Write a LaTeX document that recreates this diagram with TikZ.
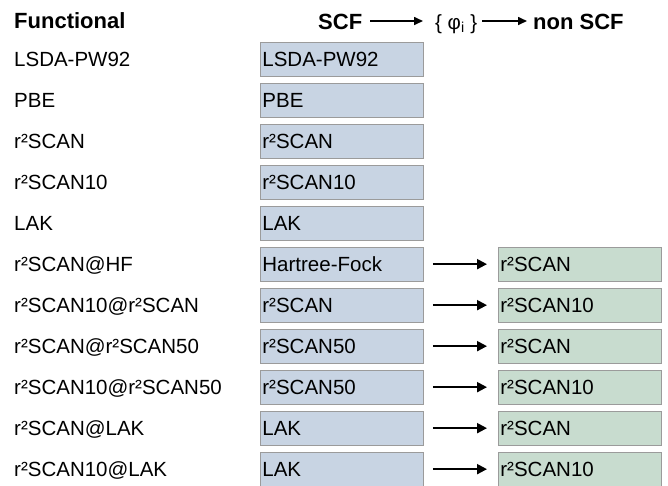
\documentclass[tikz,border=0pt]{standalone}
\usepackage{fontspec}
\setmainfont{Liberation Sans}
\usetikzlibrary{arrows.meta}

\definecolor{scfblue}{RGB}{200,212,227}
\definecolor{nscfgreen}{RGB}{200,220,207}
\definecolor{cellline}{RGB}{155,155,155}

\begin{document}
\begin{tikzpicture}[x=1pt, y=-1pt,
  font=\fontsize{20.5}{24}\selectfont,
  lab/.style={anchor=base west, inner sep=0pt},
  head/.style={lab, font=\fontsize{22}{26}\selectfont\bfseries},
  cell/.style={draw=cellline, line width=0.8pt, anchor=north west,
    minimum height=33.5pt, text width=159pt, inner xsep=2pt, inner ysep=0pt,
    align=left, text height=14pt, text depth=0pt},
  scfbox/.style={cell, fill=scfblue},
  nscfbox/.style={cell, fill=nscfgreen},
  flow/.style={line width=2pt, -{Triangle[length=10pt,width=10pt]},
    shorten <=9pt, shorten >=11pt},
  hflow/.style={line width=1.6pt, -{Triangle[length=9pt,width=8pt]}},
]
\useasboundingbox (0,0) rectangle (668,485);

% header line
\node[head] (hfun) at (14,28) {Functional};
\node[head] (hscf) at (318,29) {SCF};
\node[lab]  (hphi) at (435,29) {\{ φ\textsubscript{i} \}};
\node[head] (hnon) at (533,29) {non SCF};
\draw[hflow, shorten <=8pt, shorten >=12pt]
  ([yshift=8pt]hscf.base east) -- ([yshift=8pt]hphi.base west);
\draw[hflow, shorten <=5pt, shorten >=6pt]
  ([yshift=8pt]hphi.base east) -- ([yshift=8pt]hnon.base west);

% functional names, one row every 41pt
\node[lab] (l0)  at (14,66)  {LSDA-PW92};
\node[lab] (l1)  at (14,107) {PBE};
\node[lab] (l2)  at (14,148) {r²SCAN};
\node[lab] (l3)  at (14,189) {r²SCAN10};
\node[lab] (l4)  at (14,230) {LAK};
\node[lab] (l5)  at (14,271) {r²SCAN@HF};
\node[lab] (l6)  at (14,312) {r²SCAN10@r²SCAN};
\node[lab] (l7)  at (14,353) {r²SCAN@r²SCAN50};
\node[lab] (l8)  at (14,394) {r²SCAN10@r²SCAN50};
\node[lab] (l9)  at (14,435) {r²SCAN@LAK};
\node[lab] (l10) at (14,476) {r²SCAN10@LAK};

% self-consistent densities
\node[scfbox] (s0)  at (260,42)  {LSDA-PW92};
\node[scfbox] (s1)  at (260,83)  {PBE};
\node[scfbox] (s2)  at (260,124) {r²SCAN};
\node[scfbox] (s3)  at (260,165) {r²SCAN10};
\node[scfbox] (s4)  at (260,206) {LAK};
\node[scfbox] (s5)  at (260,247) {Hartree-Fock};
\node[scfbox] (s6)  at (260,288) {r²SCAN};
\node[scfbox] (s7)  at (260,329) {r²SCAN50};
\node[scfbox] (s8)  at (260,370) {r²SCAN50};
\node[scfbox] (s9)  at (260,411) {LAK};
\node[scfbox] (s10) at (260,452) {LAK};

% non-self-consistent evaluations
\node[nscfbox] (n5)  at (498,247) {r²SCAN};
\node[nscfbox] (n6)  at (498,288) {r²SCAN10};
\node[nscfbox] (n7)  at (498,329) {r²SCAN};
\node[nscfbox] (n8)  at (498,370) {r²SCAN10};
\node[nscfbox] (n9)  at (498,411) {r²SCAN};
\node[nscfbox] (n10) at (498,452) {r²SCAN10};

\foreach \k in {5,...,10}
  \draw[flow] (s\k.east) -- (n\k.west);
\end{tikzpicture}
\end{document}
